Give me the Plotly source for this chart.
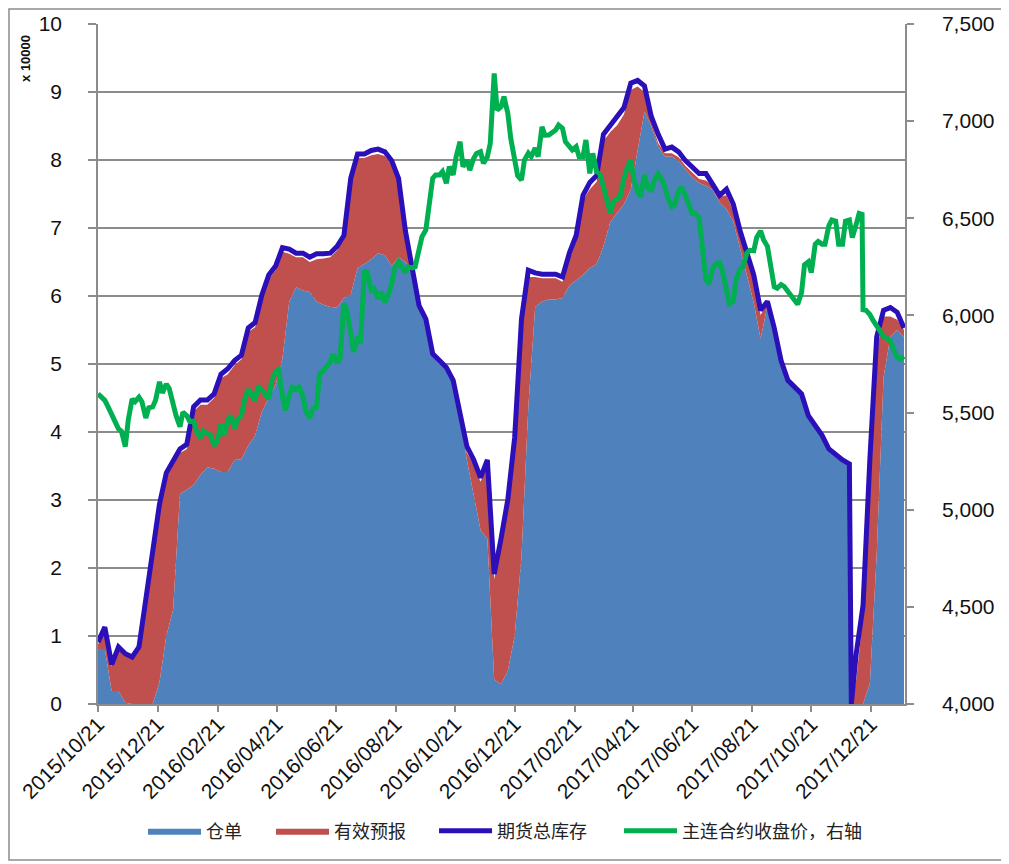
import plotly.graph_objects as go

dates = [
    "2015-10-21","2015-10-28","2015-11-04","2015-11-11","2015-11-18","2015-11-25","2015-12-02","2015-12-09","2015-12-16","2015-12-23",
    "2015-12-30","2016-01-06","2016-01-13","2016-01-20","2016-01-27","2016-02-03","2016-02-10","2016-02-17","2016-02-24","2016-03-02",
    "2016-03-09","2016-03-16","2016-03-23","2016-03-30","2016-04-06","2016-04-13","2016-04-20","2016-04-27","2016-05-04","2016-05-11",
    "2016-05-18","2016-05-25","2016-06-01","2016-06-08","2016-06-15","2016-06-22","2016-06-29","2016-07-06","2016-07-13","2016-07-20",
    "2016-07-27","2016-08-03","2016-08-10","2016-08-17","2016-08-24","2016-08-31","2016-09-07","2016-09-14","2016-09-21","2016-09-28",
    "2016-10-05","2016-10-12","2016-10-19","2016-10-26","2016-11-02","2016-11-09","2016-11-16","2016-11-23","2016-11-30","2016-12-07",
    "2016-12-14","2016-12-21","2016-12-28","2017-01-04","2017-01-11","2017-01-18","2017-01-25","2017-02-01","2017-02-08","2017-02-15",
    "2017-02-22","2017-03-01","2017-03-08","2017-03-15","2017-03-22","2017-03-29","2017-04-05","2017-04-12","2017-04-19","2017-04-26",
    "2017-05-03","2017-05-10","2017-05-17","2017-05-24","2017-05-31","2017-06-07","2017-06-14","2017-06-21","2017-06-28","2017-07-05",
    "2017-07-12","2017-07-19","2017-07-26","2017-08-02","2017-08-09","2017-08-16","2017-08-23","2017-08-30","2017-09-06","2017-09-13",
    "2017-09-20","2017-09-27","2017-10-04","2017-10-11","2017-10-18","2017-10-25","2017-11-01","2017-11-08","2017-11-15","2017-11-22",
    "2017-11-29","2017-12-01","2017-12-06","2017-12-13","2017-12-20","2017-12-27","2018-01-03","2018-01-10","2018-01-17","2018-01-24",
]

# 仓单 (x10000)
cangdan = [
    0.81,0.81,0.19,0.19,0.02,0,0,0,0,0.32,
    1.0,1.39,3.09,3.15,3.22,3.37,3.48,3.46,3.41,3.41,
    3.59,3.6,3.8,3.95,4.3,4.5,4.69,5.08,5.92,6.13,
    6.08,6.06,5.92,5.87,5.84,5.83,5.97,6.02,6.41,6.47,
    6.54,6.63,6.6,6.44,6.57,6.5,6.36,5.84,5.64,5.13,
    5.03,4.93,4.74,4.22,3.59,3.07,2.56,2.43,0.36,0.29,
    0.49,1.0,2.17,4.37,5.84,5.92,5.95,5.95,5.97,6.15,
    6.23,6.31,6.41,6.47,6.73,7.09,7.22,7.35,7.57,8.12,
    8.71,8.5,8.2,8.05,8.05,7.99,7.86,7.75,7.66,7.62,
    7.56,7.38,7.28,7.1,6.7,6.3,5.9,5.37,5.86,5.47,
    5.02,4.74,4.64,4.54,4.22,4.09,3.93,3.73,3.64,3.57,
    3.5,0,0,0,0.3,2.2,4.8,5.4,5.5,5.4,
]

# 有效预报 (x10000)
yubao = [
    0.07,0.26,0.36,0.62,0.69,0.67,0.8,1.42,2.04,2.56,
    2.33,2.14,0.6,0.6,1.08,1.03,0.92,1.04,1.38,1.44,
    1.39,1.47,1.67,1.59,1.65,1.75,1.69,1.57,0.7,0.44,
    0.49,0.44,0.62,0.68,0.73,0.84,0.86,1.65,1.62,1.56,
    1.53,1.46,1.46,1.49,1.1,0.39,0,0,0,0,
    0,0,0,0,0.1,0.46,0.71,1.1,1.48,2.01,
    2.45,2.8,3.36,1.91,0.44,0.34,0.31,0.31,0.24,0.39,
    0.57,1.1,1.16,1.21,1.55,1.32,1.29,1.32,1.46,0.96,
    0.29,0.06,0.05,0.05,0.05,0.05,0.05,0.06,0.06,0.08,
    0.06,0.08,0.2,0.15,0.2,0.25,0.35,0.35,0.03,0,
    0,0,0,0,0,0,0,0,0,0,
    0,0,0.35,1.3,3.0,3.0,0.9,0.3,0.15,0.1,
]

# 期货总库存 (x10000)
total = [
    0.91,1.13,0.58,0.84,0.74,0.69,0.84,1.52,2.2,2.94,
    3.4,3.59,3.75,3.82,4.37,4.47,4.47,4.56,4.85,4.93,
    5.05,5.13,5.53,5.61,6.02,6.31,6.44,6.71,6.69,6.63,
    6.63,6.57,6.62,6.62,6.63,6.73,6.89,7.73,8.09,8.09,
    8.14,8.16,8.12,7.99,7.73,6.96,6.38,5.86,5.66,5.15,
    5.05,4.95,4.76,4.24,3.79,3.59,3.33,3.59,1.91,2.43,
    3.01,3.92,5.66,6.38,6.34,6.32,6.32,6.32,6.28,6.63,
    6.89,7.48,7.67,7.77,8.38,8.51,8.61,8.77,9.13,9.17,
    9.09,8.64,8.38,8.16,8.19,8.12,7.99,7.9,7.8,7.8,
    7.64,7.48,7.57,7.35,6.96,6.63,6.31,5.79,5.92,5.53,
    5.05,4.76,4.66,4.56,4.24,4.11,3.95,3.75,3.66,3.59,
    3.53,0.0,0.74,1.45,3.6,5.4,5.79,5.83,5.76,5.53,
]

# 主连合约收盘价 (right axis)
price_dates = [
    "2015-10-21","2015-10-24","2015-10-28","2015-10-31","2015-11-04","2015-11-07","2015-11-11","2015-11-14","2015-11-18","2015-11-21",
    "2015-11-25","2015-11-28","2015-12-02","2015-12-05","2015-12-09","2015-12-12","2015-12-16","2015-12-19","2015-12-23","2015-12-26",
    "2015-12-30","2016-01-02","2016-01-06","2016-01-09","2016-01-13","2016-01-16","2016-01-20","2016-01-23","2016-01-27","2016-01-30",
    "2016-02-03","2016-02-06","2016-02-10","2016-02-13","2016-02-17","2016-02-20","2016-02-24","2016-02-27","2016-03-02","2016-03-05",
    "2016-03-09","2016-03-12","2016-03-16","2016-03-19","2016-03-23","2016-03-26","2016-03-30","2016-04-02","2016-04-06","2016-04-09",
    "2016-04-13","2016-04-16","2016-04-20","2016-04-23","2016-04-27","2016-04-30","2016-05-04","2016-05-07","2016-05-11","2016-05-14",
    "2016-05-18","2016-05-21","2016-05-25","2016-05-28","2016-06-01","2016-06-04","2016-06-08","2016-06-11","2016-06-15","2016-06-18",
    "2016-06-22","2016-06-25","2016-06-29","2016-07-02","2016-07-06","2016-07-09","2016-07-13","2016-07-16","2016-07-20","2016-07-23",
    "2016-07-27","2016-07-30","2016-08-03","2016-08-06","2016-08-10","2016-08-13","2016-08-17","2016-08-20","2016-08-24","2016-08-27",
    "2016-08-31","2016-09-03","2016-09-07","2016-09-10","2016-09-14","2016-09-17","2016-09-21","2016-09-24","2016-09-28","2016-10-01",
    "2016-10-05","2016-10-08","2016-10-12","2016-10-15","2016-10-19","2016-10-22","2016-10-26","2016-10-29","2016-11-02","2016-11-05",
    "2016-11-09","2016-11-12","2016-11-16","2016-11-19","2016-11-23","2016-11-26","2016-11-30","2016-12-03","2016-12-07","2016-12-10",
    "2016-12-14","2016-12-17","2016-12-21","2016-12-24","2016-12-28","2016-12-31","2017-01-04","2017-01-07","2017-01-11","2017-01-14",
    "2017-01-18","2017-01-21","2017-01-25","2017-01-28","2017-02-01","2017-02-04","2017-02-08","2017-02-11","2017-02-15","2017-02-18",
    "2017-02-22","2017-02-25","2017-03-01","2017-03-04","2017-03-08","2017-03-11","2017-03-15","2017-03-18","2017-03-22","2017-03-25",
    "2017-03-29","2017-04-01","2017-04-05","2017-04-08","2017-04-12","2017-04-15","2017-04-19","2017-04-22","2017-04-26","2017-04-29",
    "2017-05-03","2017-05-06","2017-05-10","2017-05-13","2017-05-17","2017-05-20","2017-05-24","2017-05-27","2017-05-31","2017-06-03",
    "2017-06-07","2017-06-10","2017-06-14","2017-06-17","2017-06-21","2017-06-24","2017-06-28","2017-07-01","2017-07-05","2017-07-08",
    "2017-07-12","2017-07-15","2017-07-19","2017-07-22","2017-07-26","2017-07-29","2017-08-02","2017-08-05","2017-08-09","2017-08-12",
    "2017-08-16","2017-08-19","2017-08-23","2017-08-26","2017-08-30","2017-09-02","2017-09-06","2017-09-09","2017-09-13","2017-09-16",
    "2017-09-20","2017-09-23","2017-09-27","2017-09-30","2017-10-04","2017-10-07","2017-10-11","2017-10-14","2017-10-18","2017-10-21",
    "2017-10-25","2017-10-28","2017-11-01","2017-11-04","2017-11-08","2017-11-11","2017-11-15","2017-11-18","2017-11-22","2017-11-25",
    "2017-11-29","2017-12-01","2017-12-02","2017-12-06","2017-12-09","2017-12-12","2017-12-13","2017-12-16","2017-12-20","2017-12-23",
    "2017-12-27","2017-12-30","2018-01-03","2018-01-06","2018-01-10","2018-01-13","2018-01-17","2018-01-20","2018-01-24",
]
price = [
    5597,5579,5563,5533,5495,5461,5416,5404,5325,5461,
    5570,5556,5579,5556,5472,5524,5529,5563,5658,5601,
    5647,5624,5540,5484,5427,5502,5484,5454,5456,5404,
    5370,5404,5393,5386,5330,5352,5438,5382,5461,5484,
    5420,5465,5484,5563,5619,5597,5563,5638,5617,5597,
    5570,5665,5710,5721,5586,5511,5592,5629,5619,5631,
    5586,5506,5472,5518,5529,5699,5715,5733,5760,5801,
    5756,5778,6061,6027,5891,5812,5891,5857,6231,6220,
    6129,6136,6084,6122,6068,6100,6163,6242,6276,6251,
    6220,6250,6245,6250,6345,6405,6440,6560,6706,6723,
    6723,6740,6680,6766,6723,6817,6894,6766,6800,6748,
    6809,6834,6843,6783,6817,6886,7246,7057,7074,7126,
    7040,6911,6800,6720,6697,6800,6835,6817,6861,6817,
    6971,6928,6929,6937,6954,6980,6963,6894,6869,6852,
    6869,6817,6817,6903,6731,6834,6740,6731,6663,6594,
    6526,6586,6603,6611,6706,6757,6800,6706,6637,6611,
    6723,6663,6639,6695,6729,6707,6661,6605,6559,6571,
    6639,6661,6616,6571,6525,6525,6503,6367,6186,6163,
    6242,6265,6272,6226,6136,6061,6072,6186,6238,6251,
    6322,6335,6333,6401,6435,6390,6356,6254,6147,6140,
    6159,6150,6122,6102,6077,6057,6118,6260,6276,6220,
    6367,6381,6367,6367,6462,6491,6485,6367,6367,6485,
    6491,6412,6401,6469,6525,6520,6030,6027,6005,5977,
    5948,5930,5891,5884,5869,5828,5783,5774,5789,
]

tick_dates = ["2015-10-21","2015-12-21","2016-02-21","2016-04-21","2016-06-21","2016-08-21",
              "2016-10-21","2016-12-21","2017-02-21","2017-04-21","2017-06-21","2017-08-21",
              "2017-10-21","2017-12-21"]
tick_text = [d.replace("-", "/") for d in tick_dates]

names = ["仓单", "有效预报", "期货总库存", "主连合约收盘价，右轴"]
legend_x = [0.0558, 0.2144, 0.4164, 0.6456]

GRID = "#8c8c8c"
NUMFONT = dict(family="Liberation Sans, Arial, sans-serif", size=21, color="#111111")
CJK = "Noto Sans CJK SC, sans-serif"

fig = go.Figure()
fig.add_trace(go.Scatter(x=dates, y=cangdan, name=names[0], stackgroup="one",
                         mode="lines", line=dict(width=0, color="#4F81BD"),
                         fillcolor="#4F81BD", legend="legend"))
fig.add_trace(go.Scatter(x=dates, y=yubao, name=names[1], stackgroup="one",
                         mode="lines", line=dict(width=0, color="#C0504D"),
                         fillcolor="#C0504D", legend="legend2"))
fig.add_trace(go.Scatter(x=dates, y=total, name=names[2], mode="lines",
                         line=dict(width=5, color="#2B0FB8"), legend="legend3"))
fig.add_trace(go.Scatter(x=price_dates, y=price, name=names[3], mode="lines", yaxis="y2",
                         line=dict(width=5, color="#00B050"), legend="legend4"))

def leg(x):
    return dict(orientation="h", x=x, xanchor="left", y=-0.1868, yanchor="middle",
                font=dict(family=CJK, size=18, color="#222222"),
                itemwidth=53, bgcolor="rgba(0,0,0,0)", borderwidth=0)

fig.update_layout(
    width=1001, height=856,
    margin=dict(l=90, r=104, t=16, b=160, autoexpand=False),
    paper_bgcolor="white", plot_bgcolor="white",
    showlegend=True,
    legend=leg(legend_x[0]), legend2=leg(legend_x[1]),
    legend3=leg(legend_x[2]), legend4=leg(legend_x[3]),
    xaxis=dict(type="date", range=["2015-10-21", "2018-01-25"], automargin=False,
               tickvals=tick_dates, ticktext=tick_text, tickangle=-45,
               ticks="outside", ticklen=6, tickcolor=GRID, tickwidth=1.5,
               ticklabelstandoff=-8,
               showline=True, linecolor=GRID, linewidth=1.5, showgrid=False,
               tickfont=dict(family="Liberation Sans, Arial, sans-serif", size=21, color="#111111")),
    yaxis=dict(range=[0, 10], dtick=1, tick0=0, showgrid=True, gridcolor=GRID, gridwidth=1.5,
               automargin=False,
               showline=True, linecolor=GRID, linewidth=1.5, zeroline=False,
               ticks="outside", ticklen=8, tickcolor=GRID, tickwidth=1.5,
               ticklabelstandoff=22, tickfont=NUMFONT),
    yaxis2=dict(range=[4000, 7500], dtick=500, tick0=4000, overlaying="y", side="right",
                automargin=False,
                showgrid=False, showline=True, linecolor=GRID, linewidth=1.5, zeroline=False,
                ticks="outside", ticklen=7, tickcolor=GRID, tickwidth=1.5,
                tickformat=",", ticklabelstandoff=24, tickfont=NUMFONT),
    shapes=[dict(type="rect", xref="paper", yref="paper",
                 x0=-0.1103, x1=1.1202, y0=-0.2294, y1=1.022,
                 line=dict(color=GRID, width=1.5), fillcolor="rgba(0,0,0,0)", layer="below")],
    annotations=[dict(text="<b>x 10000</b>", xref="paper", yref="paper",
                      x=-0.0905, y=0.95, xanchor="center", yanchor="middle",
                      textangle=-90, showarrow=False,
                      font=dict(family="Liberation Sans, Arial, sans-serif", size=13, color="#111111"))],
)

fig.write_html("out.html")
